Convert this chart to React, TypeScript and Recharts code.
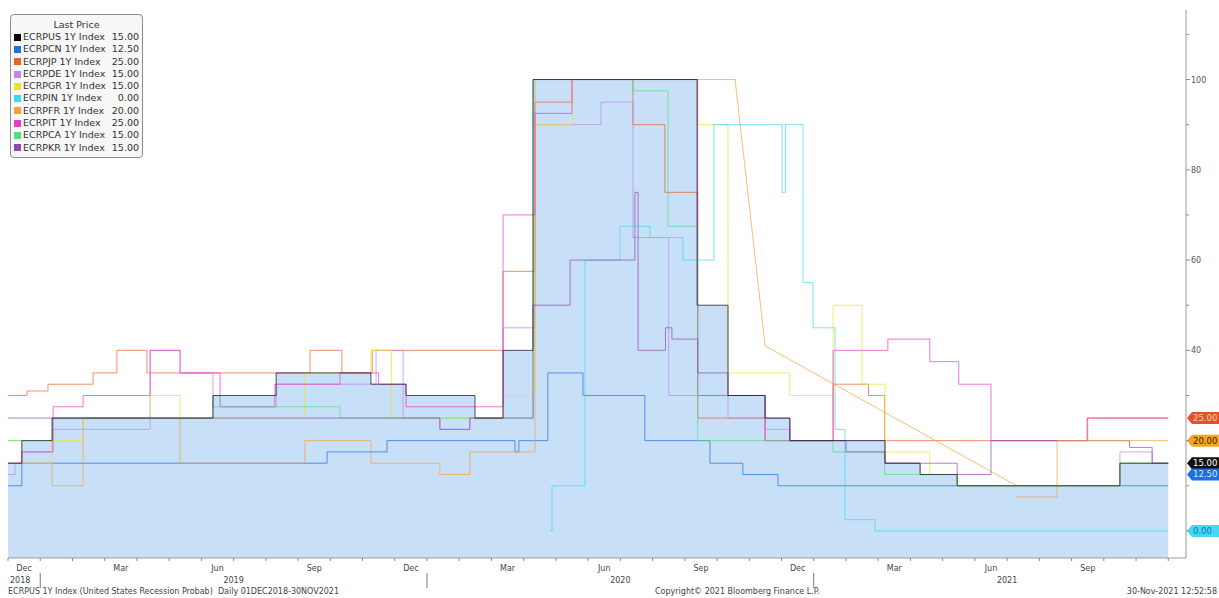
import React from 'react';
import { ComposedChart, Area, Line, XAxis, YAxis, ReferenceLine, Legend } from 'recharts';

type Pt = [number, number];

// x: months since 01-Dec-2018 (36 = 30-Nov-2021), y: recession probability in %
const ecrpus: Pt[] = [[0, 15], [0.43, 20], [1.37, 25], [6.36, 30], [8.32, 35], [11.26, 32.5], [12.35, 30], [14.49, 25], [15.36, 40], [16.29, 100], [21.38, 50], [22.34, 30], [23.49, 25], [24.26, 20], [27.21, 15], [28.3, 12.5], [29.45, 10], [34.5, 15], [36, 15]];
const ecrpcn: Pt[] = [[0, 10], [0.43, 15], [9.9, 17.5], [11.76, 20], [15.73, 17.5], [15.85, 20], [16.75, 35], [17.84, 30], [19.76, 20], [21.78, 15], [22.8, 12.5], [23.89, 10], [36, 10]];
const ecrpjp: Pt[] = [[0, 30], [0.59, 31], [1.24, 32.5], [2.64, 35], [3.38, 40], [4.31, 35], [9.37, 40], [10.36, 35], [11.3, 40], [15.36, 57.5], [16.35, 95], [17.5, 100], [19.39, 90], [20.38, 75], [21.4, 25], [23.49, 20], [25.6, 32.5], [26.7, 30], [27.2, 20], [30.47, 20], [33.48, 25], [36, 25]];
const ecrpde: Pt[] = [[0, 12.5], [0.22, 15], [0.43, 17.5], [1.37, 22.5], [4.41, 40], [5.34, 35], [6.36, 27.5], [8.32, 32.5], [11.42, 40], [12.26, 25], [13.4, 22.5], [14.33, 25], [15.36, 45], [16.35, 90], [18.4, 95], [19.39, 65], [20.5, 30], [22.34, 25], [23.49, 22.5], [24.26, 20], [27.21, 15], [28.3, 12.5], [29.45, 10], [34.5, 17.5], [35.5, 15], [36, 15]];
const ecrpgr: Pt[] = [[0, 20], [0.43, 15], [1.37, 20], [2.33, 25], [4.41, 30], [5.34, 25], [9.21, 35], [11.26, 40], [11.9, 25], [15.36, 30], [16.35, 90], [17.5, 100], [21.38, 90], [22.34, 35], [24.26, 30], [25.6, 50], [26.5, 32.5], [27.21, 17.5], [28.6, 12.5], [29.45, 10], [34.5, 15], [36, 15]];
const ecrpin: Pt[] = [[16.82, 0], [16.88, 10], [17.9, 60], [18.99, 67.5], [19.92, 65], [20.94, 60], [21.9, 90], [24.02, 75], [24.12, 90], [24.67, 55], [24.98, 45], [25.66, 22.5], [25.97, 2.5], [26.9, 0], [36, 0]];
const ecrpfr: Pt[] = [[0, 15], [1.37, 10], [2.33, 25], [5.34, 15], [9.21, 20], [11.26, 15], [13.4, 12.5], [14.33, 17.5], [16.35, 100], [22.56, 100]];
const ecrpfrGap: Pt[] = [[22.56, 100], [23.49, 41], [31.3, 10]];
const ecrpfrLate: Pt[] = [[31.3, 7.5], [32.55, 20], [36, 20]];
const ecrpit: Pt[] = [[0, 15], [0.43, 17.5], [1.4, 27.5], [2.33, 30], [4.41, 40], [5.34, 35], [6.58, 27.5], [8.28, 32.5], [10.3, 35], [11.5, 32.5], [12.35, 27.5], [15.36, 70], [16.35, 92.5], [17.5, 100], [21.4, 30], [23.49, 20], [25.6, 40], [27.3, 42.5], [28.6, 37.5], [29.5, 32.5], [30.5, 20], [33.5, 25], [36, 25]];
const ecrpca: Pt[] = [[0, 20], [1.37, 25], [6.36, 30], [6.58, 27.5], [10.3, 25], [16.29, 100], [19.39, 97.5], [20.48, 67.5], [21.4, 20], [25.6, 17.5], [27.2, 12.5], [29.45, 10], [34.5, 15], [36, 15]];
const ecrpkr: Pt[] = [[0, 25], [13.4, 22.5], [14.33, 25], [16.29, 50], [17.44, 60], [19.45, 75], [19.55, 40], [20.4, 45], [20.6, 42.5], [21.4, 35], [22.34, 30], [23.49, 25], [24.26, 20], [26.0, 17.5], [27.21, 15], [29.45, 12.5], [30.5, 20], [34.8, 18.5], [35.5, 15], [36, 15]];

const seriesNames = ['ECRPUS 1Y Index', 'ECRPCN 1Y Index', 'ECRPJP 1Y Index', 'ECRPDE 1Y Index', 'ECRPGR 1Y Index', 'ECRPIN 1Y Index', 'ECRPFR 1Y Index', 'ECRPIT 1Y Index', 'ECRPCA 1Y Index', 'ECRPKR 1Y Index'];
const lastPrices = ['15.00', '12.50', '25.00', '15.00', '15.00', '0.00', '20.00', '25.00', '15.00', '15.00'];
const seriesColors = ['#000000', '#1e6fdf', '#e8622c', '#c084ea', '#f0e22a', '#3fd8f2', '#f5a13a', '#e83ccb', '#4fdf7e', '#8d4bae'];

const monthNames = ['Jan', 'Feb', 'Mar', 'Apr', 'May', 'Jun', 'Jul', 'Aug', 'Sep', 'Oct', 'Nov', 'Dec'];
const labelledMonths = ['Dec', 'Mar', 'Jun', 'Sep'];
const monthTicks = Array.from({ length: 37 }, (_, k) => k);

const valueTicks = [0, 10, 20, 30, 40, 50, 60, 70, 80, 90, 100, 110];
const valueLabels = [40, 60, 80, 100];

const tagValues = [25, 20, 15, 12.5, 0];
const tagTexts = ['25.00', '20.00', '15.00', '12.50', '0.00'];
const tagFills = ['#e4522a', '#f2a422', '#111111', '#1e6fdf', '#45d8f0'];
const tagInks = ['#ffd4bf', '#3b2300', '#ffffff', '#d6e8ff', '#1b6ec6'];

const W = 1219;
const H = 598;
const X_MAX = 36.55;
const PLOT_W = 1178;
const MONTH_PX = PLOT_W / X_MAX;
const FONT = "'DejaVu Sans', sans-serif";

const rows = (pts: Pt[]) => pts.map(([t, v]) => ({ t, v }));

const MonthTick = (props: any) => {
  const { x, y, payload } = props;
  const k: number = payload.value;
  const m = (11 + k) % 12;
  const year = 2018 + Math.floor((11 + k) / 12);
  const name = monthNames[m];
  return (
    <g>
      <line x1={x} x2={x} y1={y} y2={y + 3} stroke="#8a8a8a" />
      {labelledMonths.includes(name) && k < 36 && (
        <text x={x + MONTH_PX / 2} y={y + 13} textAnchor="middle" fontSize={8} fontFamily={FONT} fill="#444">
          {name}
        </text>
      )}
      {m === 0 && <line x1={x} x2={x} y1={y + 15} y2={y + 30} stroke="#777" />}
      {(m === 6 || k === 0) && (
        <text x={k === 0 ? x + 2 : x} y={y + 25} textAnchor={k === 0 ? 'start' : 'middle'} fontSize={8} fontFamily={FONT} fill="#444">
          {year}
        </text>
      )}
    </g>
  );
};

const ValueTick = (props: any) => {
  const { x, y, payload } = props;
  const labelled = valueLabels.includes(payload.value);
  return (
    <g>
      <line x1={x} x2={x + (labelled ? 4 : 3)} y1={y} y2={y} stroke="#8a8a8a" />
      {labelled && (
        <text x={x + 5} y={y + 3} fontSize={8} fontFamily={FONT} fill="#555">
          {payload.value}
        </text>
      )}
    </g>
  );
};

const Tag = (props: any) => {
  const { viewBox, text, fill, ink } = props;
  const x0 = viewBox.x + viewBox.width + 1;
  const y = viewBox.y;
  const pts = `${x0},${y} ${x0 + 5},${y - 6} ${x0 + 33},${y - 6} ${x0 + 33},${y + 6} ${x0 + 5},${y + 6}`;
  return (
    <g>
      <polygon points={pts} fill={fill} />
      <text x={x0 + 6} y={y + 3} fontSize={8.5} fontFamily={FONT} fill={ink}>
        {text}
      </text>
    </g>
  );
};

const LegendBox = () => (
  <div
    style={{
      boxSizing: 'border-box',
      width: 133,
      border: '1px solid #8c8c8c',
      borderRadius: 4,
      background: '#f7f7f7',
      padding: '4px 3px 3px 3px',
      fontFamily: FONT,
      fontSize: 9.5,
      color: '#333',
    }}
  >
    <div style={{ textAlign: 'center', lineHeight: '12px', height: 12 }}>Last Price</div>
    {seriesNames.map((n, i) => (
      <div key={n} style={{ display: 'flex', alignItems: 'center', height: 12.3, lineHeight: '12.3px', whiteSpace: 'nowrap' }}>
        <span style={{ width: 7, height: 7, background: seriesColors[i], marginRight: 2, flex: 'none' }} />
        <span style={{ flex: 1 }}>{n}</span>
        <span>{lastPrices[i]}</span>
      </div>
    ))}
  </div>
);

const footerStyle: React.CSSProperties = {
  position: 'absolute',
  top: 587,
  fontFamily: FONT,
  fontSize: 8,
  lineHeight: '10px',
  color: '#444',
  whiteSpace: 'pre',
};

export default function App() {
  const lines = [ecrpcn, ecrpjp, ecrpde, ecrpgr, ecrpin, ecrpfr, ecrpit, ecrpca, ecrpkr];
  return (
    <div style={{ position: 'fixed', left: 0, top: 0, width: W, height: H, background: '#fff', overflow: 'hidden' }}>
      <ComposedChart width={W} height={H} margin={{ top: 10, right: 0, bottom: 8, left: 8 }}>
        <XAxis
          type="number"
          dataKey="t"
          domain={[0, X_MAX]}
          ticks={monthTicks}
          interval={0}
          tick={<MonthTick />}
          tickLine={false}
          tickSize={0}
          tickMargin={0}
          height={32}
          axisLine={{ stroke: '#9a9a9a' }}
          allowDataOverflow
        />
        <YAxis
          orientation="right"
          type="number"
          domain={[-6, 115.4]}
          ticks={valueTicks}
          interval={0}
          tick={<ValueTick />}
          tickLine={false}
          tickSize={0}
          tickMargin={0}
          width={33}
          axisLine={{ stroke: '#9a9a9a' }}
          allowDataOverflow
        />
        <Area
          data={rows(ecrpus)}
          dataKey="v"
          type="stepAfter"
          baseValue="dataMin"
          fill="#c8dff8"
          fillOpacity={1}
          stroke="none"
          isAnimationActive={false}
          legendType="none"
        />
        {lines.map((pts, i) => (
          <Line
            key={seriesNames[i + 1]}
            name={seriesNames[i + 1]}
            data={rows(pts)}
            dataKey="v"
            type="stepAfter"
            stroke={seriesColors[i + 1]}
            strokeWidth={1}
            strokeOpacity={0.7}
            dot={false}
            isAnimationActive={false}
          />
        ))}
        <Line data={rows(ecrpfrGap)} dataKey="v" type="linear" stroke={seriesColors[6]} strokeWidth={1} strokeOpacity={0.7} dot={false} isAnimationActive={false} legendType="none" />
        <Line data={rows(ecrpfrLate)} dataKey="v" type="stepAfter" stroke={seriesColors[6]} strokeWidth={1} strokeOpacity={0.7} dot={false} isAnimationActive={false} legendType="none" />
        <Line
          name={seriesNames[0]}
          data={rows(ecrpus)}
          dataKey="v"
          type="stepAfter"
          stroke="#1a1a2a"
          strokeWidth={1}
          strokeOpacity={0.75}
          dot={false}
          isAnimationActive={false}
        />
        {tagValues.map((v, i) => (
          <ReferenceLine
            key={tagTexts[i]}
            y={v}
            stroke="none"
            ifOverflow="visible"
            label={<Tag text={tagTexts[i]} fill={tagFills[i]} ink={tagInks[i]} />}
          />
        ))}
        <Legend
          layout="vertical"
          align="center"
          verticalAlign="middle"
          wrapperStyle={{ left: 10, top: 14, width: 133 }}
          content={() => <LegendBox />}
        />
      </ComposedChart>
      <div style={{ ...footerStyle, left: 8 }}>ECRPUS 1Y Index (United States Recession Probab)  Daily 01DEC2018-30NOV2021</div>
      <div style={{ ...footerStyle, left: 655 }}>Copyright© 2021 Bloomberg Finance L.P.</div>
      <div style={{ ...footerStyle, right: 2 }}>30-Nov-2021 12:52:58</div>
    </div>
  );
}
